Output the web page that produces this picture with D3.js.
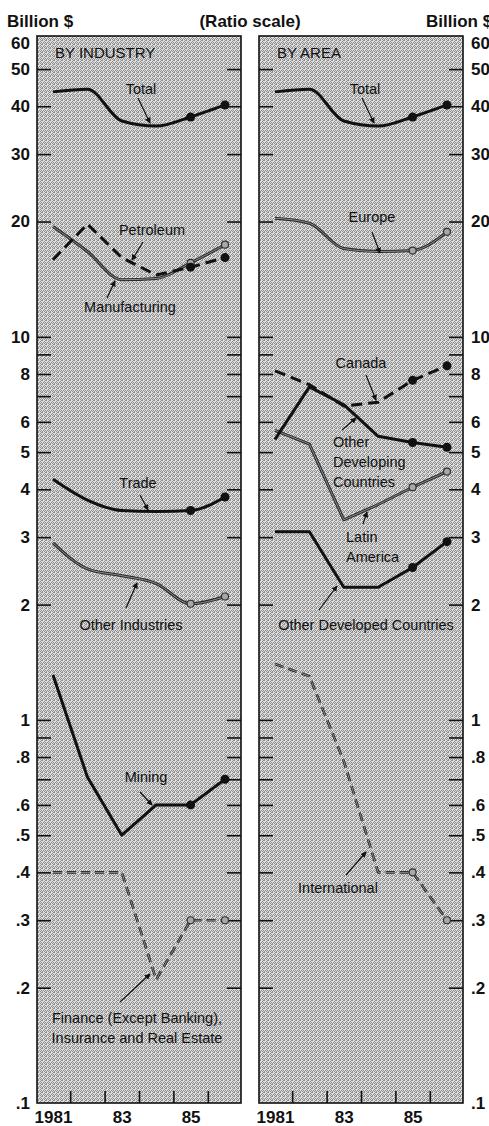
<!DOCTYPE html>
<html>
<head>
<meta charset="utf-8">
<script src="https://cdn.jsdelivr.net/npm/d3@7/dist/d3.min.js"></script>
<style>
  body { margin: 0; background: #fff; }
  svg text { font-family: Arial, "Liberation Sans", Helvetica, sans-serif; fill: #111; }
</style>
</head>
<body>
<div class="charts-container"></div>
<script>
// ---- data (billion $, ratio scale) ----
var years = [1981, 1982, 1983, 1984, 1985, 1986];

// by industry
var total           = [43.6, 44.3, 36.6, 35.5, 37.5, 40.3];
var petroleum       = [15.9, 19.7, 16.1, 14.5, 15.2, 16.1];
var manufacturing   = [19.4, 16.7, 14.1, 14.2, 15.6, 17.4];
var trade           = [4.25, 3.75, 3.52, 3.5, 3.52, 3.82];
var otherIndustries = [2.9, 2.48, 2.38, 2.27, 2.01, 2.1];
var mining          = [1.31, 0.71, 0.5, 0.6, 0.6, 0.7];
var finance         = [0.4, 0.4, 0.4, 0.21, 0.3, 0.3];

// by area
var europe          = [20.4, 19.8, 17.0, 16.7, 16.8, 18.8];
var canada          = [8.15, 7.5, 6.6, 6.75, 7.7, 8.4];
var otherDeveloping = [5.4, 7.4, 6.65, 5.5, 5.3, 5.15];
var latinAmerica    = [5.7, 5.25, 3.33, 3.65, 4.05, 4.45];
var otherDeveloped  = [3.1, 3.1, 2.22, 2.22, 2.5, 2.92];
var international   = [1.4, 1.3, 0.78, 0.4, 0.4, 0.3];

// ticks
var tickValues  = [50, 40, 30, 20, 10, 9, 8, 7, 6, 5, 4, 3, 2, 1, .9, .8, .7, .6, .5, .4, .3, .2];
var labelValues = [60, 50, 40, 30, 20, 10, 8, 6, 5, 4, 3, 2, 1, .8, .6, .5, .4, .3, .2, .1];
var tickLabels  = ["60", "50", "40", "30", "20", "10", "8", "6", "5", "4", "3", "2", "1", ".8", ".6", ".5", ".4", ".3", ".2", ".1"];
var yearTicks   = [1981.5, 1982.5, 1983.5, 1984.5, 1985.5];
var yearLabelValues = [1981, 1983, 1985];
var yearLabels  = ["1981", "83", "85"];

// ---- layout ----
var W = 489, H = 1126;
var plotTop = 36, plotBottom = 1103, panelW = 204;

var svg = d3.select(".charts-container")
    .append("svg")
    .attr("width", W)
    .attr("height", H);

var defs = svg.append("defs");

// halftone-ish screen
var pat = defs.append("pattern")
    .attr("id", "screen")
    .attr("patternUnits", "userSpaceOnUse")
    .attr("width", 4).attr("height", 4);
pat.append("rect").attr("width", 4).attr("height", 4).attr("fill", "#dedede");
[[0,0],[1,0],[3,1],[2,2],[0,2],[1,3],[3,3]].forEach(function(p) {
  pat.append("rect").attr("x", p[0]).attr("y", p[1]).attr("width", 1).attr("height", 1).attr("fill", "#8e8e8e");
});

defs.append("marker")
    .attr("id", "arrow")
    .attr("viewBox", "0 0 8 8")
    .attr("refX", 7).attr("refY", 4)
    .attr("markerWidth", 6).attr("markerHeight", 6)
    .attr("markerUnits", "userSpaceOnUse")
    .attr("orient", "auto")
  .append("path")
    .attr("d", "M0,0L8,4L0,8z")
    .attr("fill", "#111");

var y = d3.scaleLog().domain([0.1, 61]).range([plotBottom, plotTop]);
var x = d3.scaleLinear().domain([1981, 1986]).range([16, panelW - 16]);

// header
svg.append("text").attr("x", 7).attr("y", 27)
    .attr("font-size", 17).attr("font-weight", "bold").text("Billion $");
svg.append("text").attr("x", 250).attr("y", 27).attr("text-anchor", "middle")
    .attr("font-size", 17).attr("font-weight", "bold").text("(Ratio scale)");
svg.append("text").attr("x", 426).attr("y", 27)
    .attr("font-size", 17).attr("font-weight", "bold").text("Billion $");

// series styles
var styles = {
  bold:      { w: 3,   c: "#111", dash: null,   inner: null },
  boldDash:  { w: 3,   c: "#111", dash: "11,6", inner: null },
  thin:      { w: 3,   c: "#2a2a2a", dash: null, inner: "#8c8c8c" },
  thinDash:  { w: 2.6, c: "#262626", dash: "9,5",  inner: "#8c8c8c" }
};

var panels = [
  {
    left: 37, title: "BY INDUSTRY", side: "left",
    series: [
      { name: "Total", values: total, style: "bold", smooth: true },
      { name: "Manufacturing", values: manufacturing, style: "thin", smooth: true },
      { name: "Petroleum", values: petroleum, style: "boldDash", smooth: false },
      { name: "Trade", values: trade, style: "bold", smooth: true },
      { name: "Other Industries", values: otherIndustries, style: "thin", smooth: true },
      { name: "Mining", values: mining, style: "bold", smooth: false },
      { name: "Finance", values: finance, style: "thinDash", smooth: false }
    ],
    notes: [
      { lines: ["Total"], x: 104, y: 94, anchor: "middle", ptr: [101, 98, 113, 123] },
      { lines: ["Petroleum"], x: 115, y: 235, anchor: "middle", ptr: [106, 242, 95, 260] },
      { lines: ["Manufacturing"], x: 93, y: 312, anchor: "middle", ptr: [70, 298, 78, 281] },
      { lines: ["Trade"], x: 101, y: 488, anchor: "middle", ptr: [103, 495, 111, 510] },
      { lines: ["Other Industries"], x: 94, y: 630, anchor: "middle", ptr: [89, 608, 100, 583] },
      { lines: ["Mining"], x: 109, y: 782, anchor: "middle", ptr: [103, 792, 115, 805] },
      { lines: ["Finance (Except Banking),", "Insurance and Real Estate"], x: 100, y: 1023, anchor: "middle", ptr: [83, 1002, 113, 974] }
    ]
  },
  {
    left: 259, title: "BY AREA", side: "right",
    series: [
      { name: "Total", values: total, style: "bold", smooth: true },
      { name: "Europe", values: europe, style: "thin", smooth: true },
      { name: "Canada", values: canada, style: "boldDash", smooth: false },
      { name: "Latin America", values: latinAmerica, style: "thin", smooth: false },
      { name: "Other Developing Countries", values: otherDeveloping, style: "bold", smooth: false },
      { name: "Other Developed Countries", values: otherDeveloped, style: "bold", smooth: false },
      { name: "International", values: international, style: "thinDash", smooth: false }
    ],
    notes: [
      { lines: ["Total"], x: 106, y: 94, anchor: "middle", ptr: [103, 98, 115, 123] },
      { lines: ["Europe"], x: 113, y: 222, anchor: "middle", ptr: [113, 232, 121, 253] },
      { lines: ["Canada"], x: 102, y: 368, anchor: "middle", ptr: [107, 375, 117, 400] },
      { lines: ["Other", "Developing", "Countries"], x: 74, y: 447, anchor: "start", ptr: [83, 430, 97, 418] },
      { lines: ["Latin", "America"], x: 87, y: 542, anchor: "start", ptr: [104, 524, 108, 512] },
      { lines: ["Other Developed Countries"], x: 107, y: 630, anchor: "middle", ptr: [60, 610, 78, 586] },
      { lines: ["International"], x: 79, y: 893, anchor: "middle", ptr: [87, 875, 107, 852] }
    ]
  }
];

panels.forEach(function(p) {
  var g = svg.append("g").attr("transform", "translate(" + p.left + ",0)");

  g.append("rect")
      .attr("x", 0).attr("y", plotTop)
      .attr("width", panelW).attr("height", plotBottom - plotTop)
      .attr("fill", "url(#screen)");

  // inner ticks, both edges
  var tl = g.append("g").call(d3.axisRight(y).tickValues(tickValues).tickSize(14).tickFormat(""));
  var tr = g.append("g").attr("transform", "translate(" + panelW + ",0)")
      .call(d3.axisLeft(y).tickValues(tickValues).tickSize(14).tickFormat(""));
  var tb = g.append("g").attr("transform", "translate(0," + plotBottom + ")")
      .call(d3.axisTop(x).tickValues(yearTicks).tickSize(12).tickFormat(""));
  [tl, tr, tb].forEach(function(a) {
    a.select(".domain").remove();
    a.selectAll("line").attr("stroke", "#111").attr("stroke-width", 1.6);
  });

  // value labels on the outer side
  var lab;
  if (p.side == "left") {
    lab = g.append("g").call(d3.axisLeft(y).tickValues(labelValues).tickSize(0).tickPadding(7)
        .tickFormat(function(d, i) { return tickLabels[i]; }));
  } else {
    lab = g.append("g").attr("transform", "translate(" + panelW + ",0)")
        .call(d3.axisRight(y).tickValues(labelValues).tickSize(0).tickPadding(8)
        .tickFormat(function(d, i) { return tickLabels[i]; }));
  }
  // top label sits a little below the frame corner, as in the print
  lab.selectAll("text").filter(function(d) { return d == 60; }).attr("y", 4);

  var xl = g.append("g").attr("transform", "translate(0," + plotBottom + ")")
      .call(d3.axisBottom(x).tickValues(yearLabelValues).tickSize(0).tickPadding(8)
      .tickFormat(function(d, i) { return yearLabels[i]; }));
  [lab, xl].forEach(function(a) {
    a.select(".domain").remove();
    a.attr("font-family", null).attr("font-size", 17).attr("font-weight", "bold");
    a.selectAll("text").attr("fill", "#111");
  });

  // series
  p.series.forEach(function(s) {
    var st = styles[s.style];
    var line = d3.line()
        .x(function(d, i) { return x(years[i]); })
        .y(function(d) { return y(d); })
        .curve(s.smooth ? d3.curveMonotoneX : d3.curveLinear);
    g.append("path")
        .datum(s.values)
        .attr("d", line)
        .attr("fill", "none")
        .attr("stroke", st.c)
        .attr("stroke-width", st.w)
        .attr("stroke-dasharray", st.dash)
        .attr("stroke-linejoin", "round");
    if (st.inner) {
      g.append("path")
          .datum(s.values)
          .attr("d", line)
          .attr("fill", "none")
          .attr("stroke", st.inner)
          .attr("stroke-width", 1)
          .attr("stroke-dasharray", st.dash);
    }
    // latest estimates 1985-86
    g.selectAll(null)
        .data(s.values.slice(4))
        .enter().append("circle")
        .attr("cx", function(d, i) { return x(years[i + 4]); })
        .attr("cy", function(d) { return y(d); })
        .attr("r", st.inner ? 3.5 : 4.5)
        .attr("fill", st.inner ? "#a8a8a8" : "#111")
        .attr("stroke", st.inner ? "#333" : "none")
        .attr("stroke-width", 1.2);
  });

  // panel title
  g.append("text").attr("x", 18).attr("y", 58)
      .attr("font-size", 15).text(p.title);

  // notes with pointers
  p.notes.forEach(function(n) {
    var t = g.append("text")
        .attr("x", n.x).attr("y", n.y)
        .attr("text-anchor", n.anchor)
        .attr("font-size", 14.5);
    n.lines.forEach(function(l, i) {
      t.append("tspan").attr("x", n.x).attr("dy", i ? 20 : 0).text(l);
    });
    g.append("line")
        .attr("x1", n.ptr[0]).attr("y1", n.ptr[1])
        .attr("x2", n.ptr[2]).attr("y2", n.ptr[3])
        .attr("stroke", "#111").attr("stroke-width", 1.2)
        .attr("marker-end", "url(#arrow)");
  });

  // frame
  g.append("rect")
      .attr("x", 0).attr("y", plotTop)
      .attr("width", panelW).attr("height", plotBottom - plotTop)
      .attr("fill", "none")
      .attr("stroke", "#111")
      .attr("stroke-width", 1.6);
});
</script>
</body>
</html>
